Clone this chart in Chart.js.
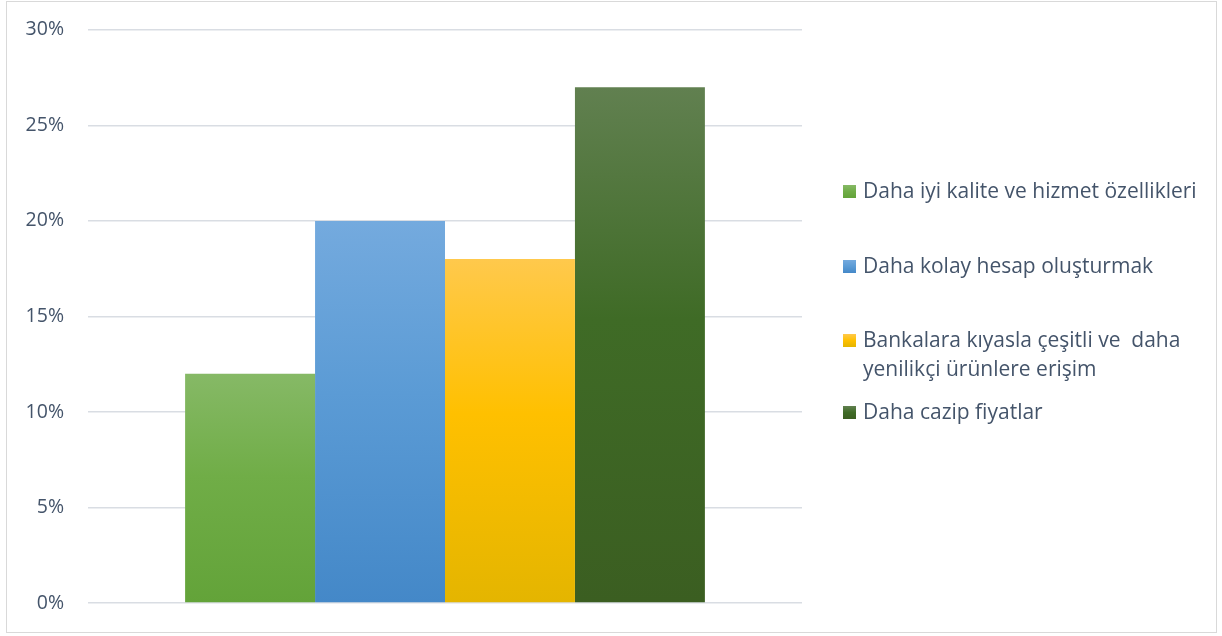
<!DOCTYPE html>
<html>
<head>
<meta charset="utf-8">
<script src="https://cdn.jsdelivr.net/npm/chart.js@4/dist/chart.umd.min.js"></script>
<style>
body{margin:0;background:#fff;font-family:"Open Sans","Noto Sans",sans-serif;}
#wrap{position:relative;width:1222px;height:636px;}
#frame{position:absolute;left:6px;top:1px;width:1211px;height:632px;border:1px solid #d9d9d9;box-sizing:border-box;}
#legend{position:absolute;left:843px;top:0;color:#44546a;font-size:21px;line-height:29px;}
.item{position:absolute;left:0;white-space:pre;}
.sw{position:absolute;left:0;top:9px;width:13px;height:13px;}
.tx{position:absolute;left:20px;top:0;}
</style>
</head>
<body>
<div id="wrap">
<div id="frame"></div>
<canvas id="c" width="1222" height="636"></canvas>
<div id="legend"></div>
</div>
<script>
const labels = ['Daha iyi kalite ve hizmet özellikleri', 'Daha kolay hesap oluşturmak', 'Bankalara kıyasla çeşitli ve  daha|yenilikçi ürünlere erişim', 'Daha cazip fiyatlar'];
const values = [12, 20, 18, 27];
const gradStops = [
  ['#86b966', '#70ad47', '#63a339'],
  ['#74aade', '#5b9bd5', '#4488c8'],
  ['#ffc94c', '#ffc000', '#e4b500'],
  ['#618050', '#3f6b26', '#3b5e21']
];
const legendTops = [176, 251, 325, 397];

function barGradient(i){
  return function(ctx){
    const chart = ctx.chart;
    if(!chart.chartArea) return gradStops[i][1];
    const y = chart.scales.y;
    const top = y.getPixelForValue(values[i]);
    const bottom = y.getPixelForValue(0);
    const g = chart.ctx.createLinearGradient(0, top, 0, bottom);
    g.addColorStop(0, gradStops[i][0]);
    g.addColorStop(0.45, gradStops[i][1]);
    g.addColorStop(1, gradStops[i][2]);
    return g;
  };
}

const chart = new Chart(document.getElementById('c'), {
  type: 'bar',
  data: {
    labels: [''],
    datasets: values.map((v, i) => ({
      label: labels[i].replace('|', ' '),
      data: [v],
      backgroundColor: barGradient(i),
      borderWidth: 0,
      barPercentage: 1,
      categoryPercentage: 0.728
    }))
  },
  options: {
    responsive: false,
    animation: false,
    layout: {padding: {left: 0, right: 420, top: 29, bottom: 25}},
    plugins: {legend: {display: false}, tooltip: {enabled: false}},
    scales: {
      x: {
        grid: {display: false},
        border: {display: false},
        ticks: {display: false}
      },
      y: {
        min: 0, max: 30,
        afterFit: s => { s.width = 88; },
        border: {display: false},
        grid: {color: '#d9dde3', lineWidth: 1.5, drawTicks: false},
        ticks: {
          stepSize: 5,
          padding: 24,
          color: '#44546a',
          font: {family: 'Open Sans', size: 19.5, lineHeight: 0.6},
          callback: v => v + '%'
        }
      }
    }
  }
});

const leg = document.getElementById('legend');
labels.forEach((l, i) => {
  const d = document.createElement('div');
  d.className = 'item';
  d.style.top = legendTops[i] + 'px';
  d.innerHTML = '<div class="sw" style="background:linear-gradient(' + gradStops[i][0] + ',' + gradStops[i][1] + ',' + gradStops[i][2] + ')"></div><div class="tx">' + l.split('|').join('<br>') + '</div>';
  leg.appendChild(d);
});
</script>
</body>
</html>
